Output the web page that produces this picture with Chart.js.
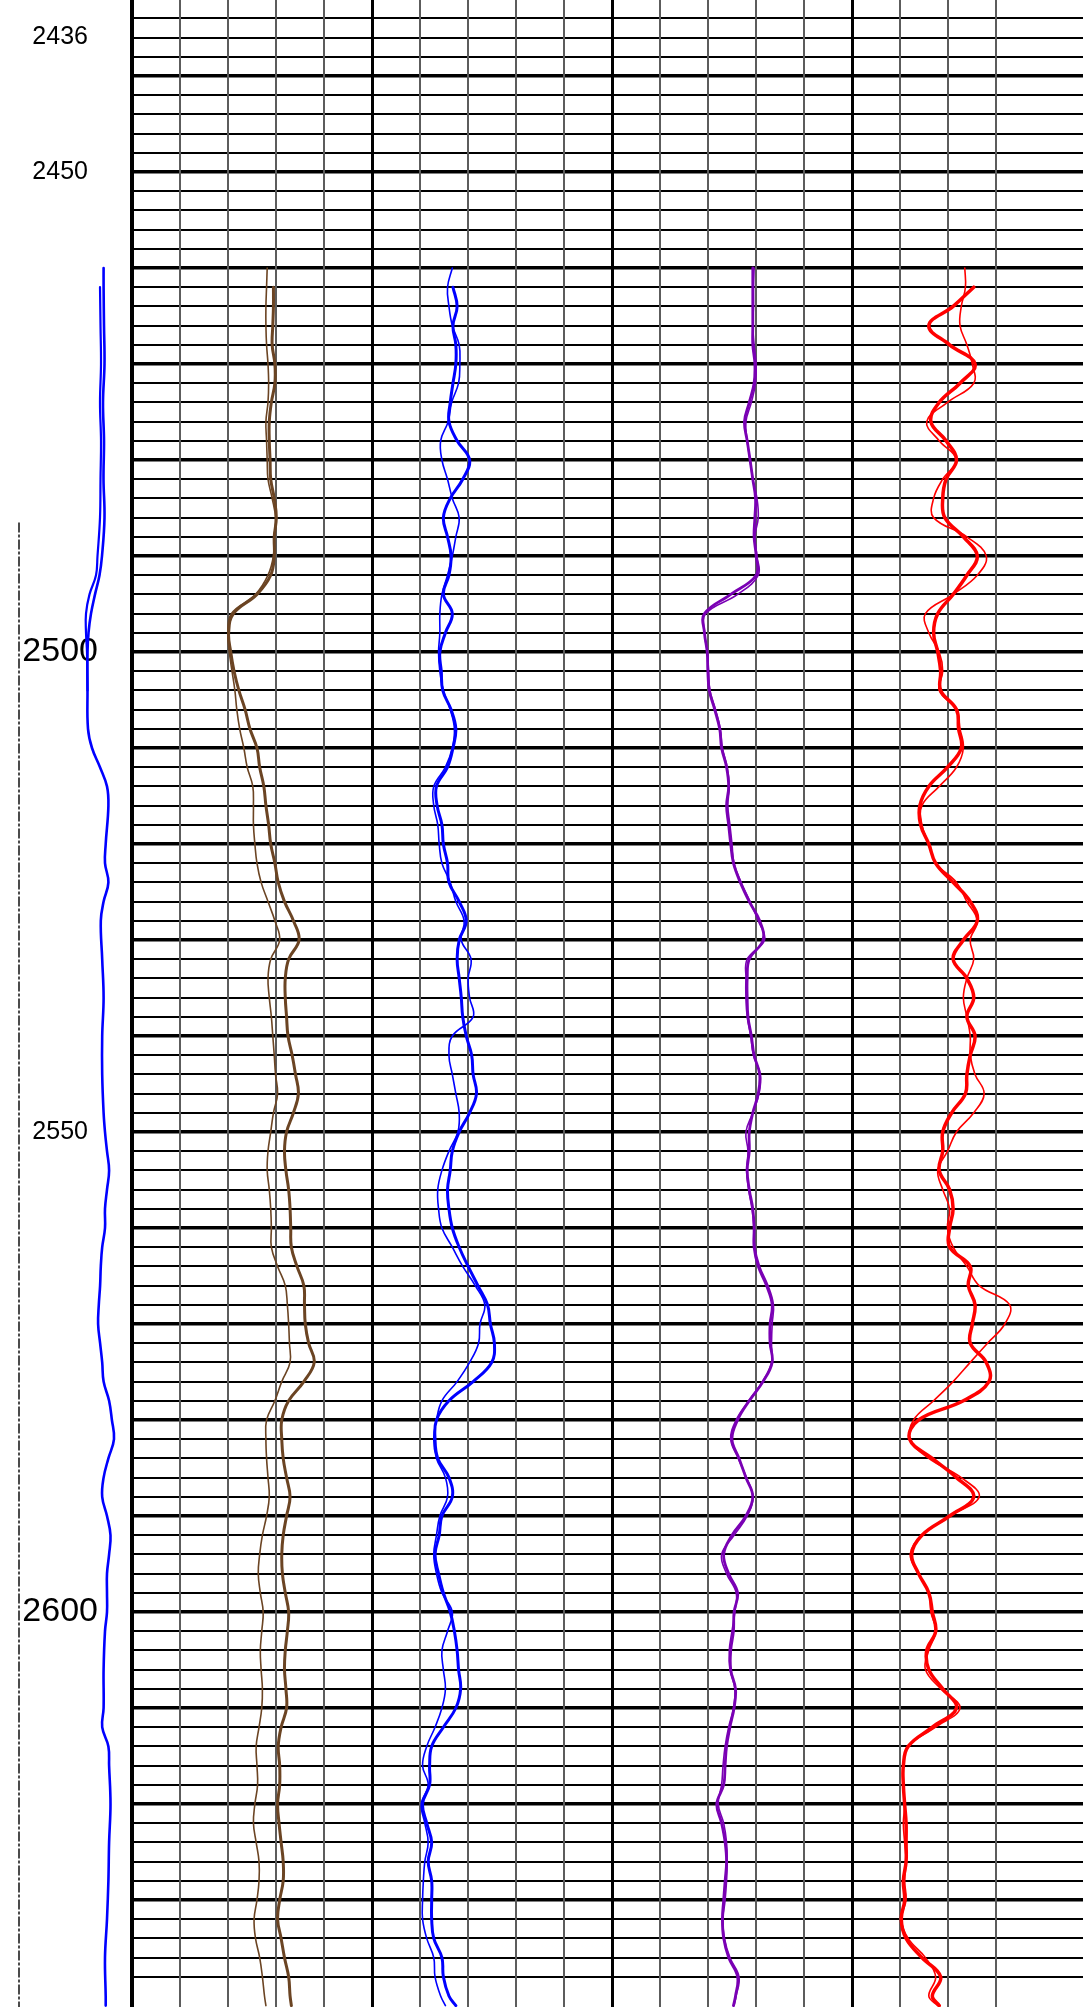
<!DOCTYPE html>
<html>
<head>
<meta charset="utf-8">
<title>Well log correlation</title>
<script src="https://cdn.jsdelivr.net/npm/chart.js@4.4.1/dist/chart.umd.min.js"></script>
<style>
  html, body { margin: 0; padding: 0; background: #fff; }
  canvas { display: block; }
</style>
</head>
<body>
<canvas id="log" width="1083" height="2007"></canvas>
<script>
"use strict";

// depth window shown on the sheet (top / bottom of the canvas)
const depthTop = 2432.083;
const depthBottom = 2641.146;
const depthLabels = [2436, 2450, 2500, 2550, 2600];
const bigLabels = [2500, 2600];

// sample depths shared by the four track curves
const depth = [
    2460, 2462, 2464, 2466, 2468, 2470, 2472, 2474, 2476, 2478, 2480, 2482, 2484, 2486, 2488, 2490, 2492, 2494, 2496, 2498, 2500, 2502, 2504,
    2506, 2508, 2510, 2512, 2514, 2516, 2518, 2520, 2522, 2524, 2526, 2528, 2530, 2532, 2534, 2536, 2538, 2540, 2542, 2544, 2546, 2548, 2550,
    2552, 2554, 2556, 2558, 2560, 2562, 2564, 2566, 2568, 2570, 2572, 2574, 2576, 2578, 2580, 2582, 2584, 2586, 2588, 2590, 2592, 2594, 2596, 2598,
    2600, 2602, 2604, 2606, 2608, 2610, 2612, 2614, 2616, 2618, 2620, 2622, 2624, 2626, 2628, 2630, 2632, 2634, 2636, 2638, 2640, 2641
];

// track 1 (brown), 0-150 across the track
const trk1Thin = [
    84.5, 84.1, 83.7, 83.7, 84.1, 85.0, 85.4, 85.0, 83.7, 84.1, 84.5, 85.0, 87.6, 89.7, 88.9, 88.4, 85.0, 77.2, 62.1, 59.9, 60.8, 62.5, 64.3,
    65.5, 67.3, 69.9, 72.0, 75.5, 75.9, 75.9, 76.8, 78.1, 80.7, 85.0, 89.3, 92.3, 86.7, 85.0, 85.8, 87.1, 88.0, 88.9, 89.7, 91.0, 88.4, 86.7,
    85.0, 84.5, 85.8, 86.7, 87.1, 87.1, 91.0, 95.8, 97.1, 97.9, 98.4, 98.8, 93.6, 89.3, 84.1, 83.7, 84.1, 85.0, 85.8, 84.1, 81.5, 79.8, 78.9, 80.2,
    82.0, 81.1, 80.2, 80.7, 81.5, 81.1, 79.4, 77.6, 78.1, 78.5, 76.8, 75.9, 77.6, 79.4, 79.4, 78.1, 76.3, 77.2, 79.8, 81.5, 82.8, 83.7
];
const trk1Thick = [
    null, 88.4, 88.4, 88.0, 87.6, 89.3, 89.3, 87.1, 85.8, 85.8, 86.3, 86.7, 88.9, 90.2, 88.9, 88.9, 86.7, 78.1, 63.4, 60.4, 61.7, 63.8, 66.8,
    70.7, 73.7, 78.1, 79.8, 82.4, 83.7, 85.4, 86.7, 89.3, 91.4, 95.3, 100.9, 104.4, 97.9, 95.8, 95.8, 96.6, 97.5, 100.1, 102.2, 104.0, 100.9, 96.6,
    95.3, 96.2, 97.9, 98.8, 99.2, 99.6, 103.1, 107.4, 107.8, 108.3, 110.4, 113.9, 107.4, 97.9, 93.6, 93.6, 94.5, 96.6, 98.8, 96.6, 94.5, 93.6, 94.0, 95.8,
    97.9, 97.1, 95.8, 95.3, 96.2, 96.6, 93.2, 91.4, 92.3, 92.3, 91.0, 91.9, 93.2, 94.5, 94.5, 92.3, 91.0, 93.2, 95.3, 97.9, 98.8, 99.6
];

// track 2 (blue)
const trk2Thin = [
    50.2, 47.2, 48.1, 50.2, 54.5, 54.9, 54.1, 49.8, 47.6, 42.9, 43.7, 47.2, 50.2, 54.5, 52.4, 50.2, 47.2, 43.7, 42.4, 42.4, 41.6, 42.4, 44.6,
    48.9, 51.5, 50.2, 45.9, 38.6, 38.6, 41.1, 42.0, 43.7, 48.9, 52.4, 57.6, 55.8, 61.9, 60.1, 61.0, 63.2, 50.2, 48.1, 50.2, 52.4, 54.5, 53.7,
    48.1, 43.7, 41.1, 41.6, 43.7, 50.2, 56.7, 64.5, 70.5, 67.5, 66.6, 61.0, 53.2, 43.7, 40.3, 38.6, 40.3, 45.9, 47.2, 42.4, 40.3, 38.6, 40.3, 43.7,
    50.2, 47.2, 43.7, 44.6, 45.9, 43.7, 39.4, 34.2, 31.6, 35.1, 30.8, 33.0, 35.1, 33.0, 32.1, 31.6, 31.6, 34.2, 38.6, 39.4, 42.9, 45.9
];
const trk2Thick = [
    null, 50.6, 53.2, 50.6, 52.4, 52.4, 50.6, 48.9, 48.1, 53.2, 61.0, 56.7, 48.9, 44.6, 47.2, 49.4, 48.1, 44.6, 50.2, 45.9, 42.4, 43.3, 44.2,
    49.4, 52.4, 50.6, 47.2, 40.3, 40.7, 43.7, 44.6, 47.2, 48.1, 54.5, 58.9, 54.5, 53.2, 54.5, 55.8, 56.7, 58.9, 62.3, 63.2, 65.3, 61.0, 54.5,
    50.2, 48.9, 47.2, 48.1, 50.2, 54.5, 60.1, 66.2, 72.2, 74.0, 76.5, 74.8, 63.2, 48.1, 40.3, 39.4, 41.1, 48.1, 50.2, 43.7, 42.0, 39.4, 41.6, 44.6,
    48.9, 51.5, 53.2, 54.1, 55.4, 52.4, 44.6, 37.3, 36.0, 36.0, 31.6, 34.2, 37.3, 35.1, 37.3, 37.3, 37.3, 38.6, 43.7, 44.6, 48.1, 52.4
];

// track 3 (purple)
const trk3Thin = [
    88.8, 88.4, 88.4, 88.0, 88.8, 90.1, 89.7, 87.1, 83.7, 84.5, 86.3, 88.0, 90.6, 91.4, 89.3, 90.6, 91.4, 78.5, 58.6, 57.8, 59.5, 60.4, 61.2,
    64.7, 67.7, 69.0, 72.0, 73.3, 72.4, 73.7, 75.0, 76.3, 80.7, 86.3, 91.4, 95.3, 84.5, 83.7, 83.7, 84.5, 86.7, 88.4, 92.7, 91.9, 88.0, 83.7,
    85.0, 84.1, 85.4, 87.5, 88.8, 89.3, 92.3, 97.5, 100.9, 100.1, 99.7, 99.7, 94.0, 85.4, 77.6, 74.2, 78.9, 84.1, 88.0, 84.5, 76.3, 68.5, 71.6, 77.6,
    76.8, 75.0, 73.3, 73.7, 76.8, 75.9, 72.9, 70.7, 69.4, 68.5, 66.4, 69.8, 71.6, 72.0, 71.6, 70.7, 69.4, 70.3, 73.7, 79.4, 77.6, 76.3
];
const trk3Thick = [
    88.0, 88.0, 88.0, 88.0, 88.0, 89.3, 88.8, 85.8, 82.8, 84.5, 86.3, 88.0, 89.7, 89.3, 88.8, 90.1, 90.1, 74.2, 57.8, 57.8, 59.5, 59.9, 60.8,
    64.2, 67.3, 68.5, 71.6, 72.9, 71.6, 72.9, 74.2, 75.9, 80.2, 85.8, 92.3, 94.4, 85.8, 84.5, 84.5, 85.0, 87.1, 88.8, 92.3, 91.4, 88.0, 85.8,
    85.8, 84.5, 85.8, 88.0, 88.8, 88.8, 91.4, 96.6, 100.1, 98.8, 98.8, 100.1, 94.4, 85.8, 78.5, 75.0, 79.4, 83.7, 88.0, 83.7, 75.0, 69.8, 72.9, 78.5,
    76.3, 75.9, 74.2, 74.2, 77.2, 76.3, 73.7, 71.6, 70.7, 69.8, 65.5, 68.5, 70.7, 71.6, 70.7, 69.8, 69.0, 69.8, 72.9, 78.5, 77.2, 75.9
];

// track 4 (red)
const trk4Thin = [
    70.5, 70.9, 68.3, 67.5, 71.8, 75.2, 76.1, 59.7, 46.7, 54.5, 65.3, 56.7, 51.0, 51.0, 71.8, 83.9, 78.3, 63.2, 45.9, 48.0, 54.5, 56.7, 54.5,
    65.3, 67.5, 69.6, 65.3, 54.5, 43.7, 43.7, 48.0, 52.3, 65.3, 71.8, 78.3, 73.9, 76.1, 71.8, 69.6, 71.8, 73.9, 73.9, 76.9, 82.6, 76.1, 65.3,
    59.7, 53.6, 56.7, 61.0, 59.7, 63.2, 71.8, 79.5, 98.5, 95.5, 84.7, 73.9, 63.2, 51.0, 38.5, 36.4, 48.0, 68.3, 79.5, 61.0, 43.7, 36.4, 41.6, 48.0,
    49.3, 52.3, 48.0, 45.9, 55.4, 67.5, 52.3, 35.1, 32.1, 32.1, 32.9, 32.1, 32.9, 33.8, 32.9, 33.8, 30.8, 35.1, 45.9, 52.3, 48.0, 53.6
];
const trk4Thick = [
    null, 76.1, 63.2, 48.0, 61.0, 76.9, 67.5, 54.5, 49.3, 58.8, 65.3, 58.8, 56.7, 58.0, 69.6, 78.3, 71.8, 63.2, 53.6, 51.0, 53.6, 55.4, 55.4,
    65.3, 66.6, 68.3, 59.7, 48.0, 42.4, 42.9, 48.0, 52.3, 63.2, 73.9, 78.3, 69.6, 63.2, 71.8, 76.1, 71.8, 76.9, 73.9, 71.8, 70.9, 62.3, 56.7,
    56.7, 54.5, 61.0, 63.2, 61.0, 61.0, 73.9, 72.7, 76.9, 75.2, 73.9, 83.9, 85.6, 69.6, 41.6, 36.0, 50.2, 65.3, 76.1, 61.0, 43.7, 37.3, 41.6, 48.0,
    50.2, 52.3, 46.7, 48.0, 56.7, 65.3, 50.2, 35.1, 32.1, 32.1, 32.9, 33.8, 33.8, 33.8, 32.1, 32.9, 30.8, 33.8, 43.7, 55.4, 50.2, 54.5
];

// caliper in the depth column (inches)
const calDepth = [
    2460, 2462, 2466, 2470, 2474, 2478, 2482, 2486, 2490, 2492, 2494, 2496, 2498, 2500, 2504, 2508, 2510, 2512, 2514, 2516,
    2520, 2522, 2524, 2526, 2528, 2532, 2536, 2540, 2544, 2548, 2550, 2552, 2554, 2556, 2558, 2560, 2562, 2564, 2566, 2568,
    2570, 2572, 2574, 2576, 2578, 2580, 2582, 2584, 2586, 2588, 2590, 2592, 2594, 2596, 2598, 2600, 2602, 2606, 2610, 2612,
    2614, 2616, 2620, 2624, 2628, 2632, 2636, 2640, 2641
];
const calA = [
    10.36, 10.36, 10.4, 10.45, 10.3, 10.4, 10.35, 10.45, 10.2, 9.95, 9.5, 9.1, 8.85, 8.75, 8.75, 8.8, 9.2, 10.0, 10.7, 10.84,
    10.57, 10.5, 10.84, 10.36, 10.08, 10.22, 10.36, 10.22, 10.22, 10.36, 10.5, 10.7, 10.91, 10.7, 10.5, 10.5, 10.22, 10.08, 10.01, 9.88,
    9.81, 10.01, 10.22, 10.36, 10.91, 11.19, 11.4, 10.84, 10.36, 10.22, 10.7, 11.05, 10.91, 10.7, 10.7, 10.7, 10.5, 10.36, 10.36, 10.22,
    10.84, 10.91, 11.05, 10.91, 10.84, 10.7, 10.5, 10.57, 10.57
];
const calBDepth = [2462, 2466, 2470, 2474, 2478, 2482, 2486, 2490, 2492, 2494, 2496, 2498, 2500, 2504];
const calB = [10.0, 10.05, 10.1, 10.0, 10.1, 10.05, 10.0, 9.75, 9.6, 8.95, 8.6, 8.6, 8.7, 8.75];

// dashed reference line in the depth column
const refDepth = [2486.5, 2641.2];
const refValue = [1.9, 1.9];

Chart.defaults.font.family = "'Liberation Sans', Arial, sans-serif";

const chartDivs = 19.8125;   // plot width in grid divisions (951 px / 48 px)
const trackUnits = 150;      // value range of one track (5 divisions)

function trackAxis(k) {
    const min = -k * trackUnits;
    return { type: 'linear', display: false, min: min, max: min + chartDivs * trackUnits / 5 };
}

function series(label, ys, xs, axis, color, width) {
    const pts = [];
    for (let i = 0; i < ys.length; i++) {
        if (xs[i] !== null) pts.push({ x: xs[i], y: ys[i] });
    }
    return {
        label: label,
        data: pts,
        xAxisID: axis,
        yAxisID: 'y',
        borderColor: color,
        backgroundColor: color,
        borderWidth: width,
        pointRadius: 0,
        showLine: true,
        tension: 0.4,
        capBezierPoints: false,
        borderJoinStyle: 'round',
        borderCapStyle: 'round',
        fill: false
    };
}

const brown = '#6b4423';
const blue = '#0000ff';
const purple = '#7a00b4';
const red = '#ff0000';

const datasets = [
    series('Track 1 A', depth, trk1Thin, 'x1', brown, 1.6),
    series('Track 1 B', depth, trk1Thick, 'x1', brown, 3),
    series('Track 2 A', depth, trk2Thin, 'x2', blue, 1.6),
    series('Track 2 B', depth, trk2Thick, 'x2', blue, 3),
    series('Track 3 A', depth, trk3Thin, 'x3', purple, 1.6),
    series('Track 3 B', depth, trk3Thick, 'x3', purple, 2.8),
    series('Track 4 A', depth, trk4Thin, 'x4', red, 1.6),
    series('Track 4 B', depth, trk4Thick, 'x4', red, 3.5)
];

const cal1 = series('Caliper A', calDepth, calA, 'xc', blue, 2.6);
const cal2 = series('Caliper B', calBDepth, calB, 'xc', blue, 2.2);
const ref = series('Reference', refDepth, refValue, 'xc', '#111', 1.5);
ref.borderDash = [10, 2, 3, 2];
ref.tension = 0;
ref.borderCapStyle = 'butt';
[cal1, cal2, ref].forEach(ds => { ds.clip = false; datasets.push(ds); });

function roundTicks(scale, step) {
    scale.ticks = scale.ticks
        .filter(t => Math.abs(t.value - Math.round(t.value)) < 1e-6 && Math.round(t.value) % step === 0)
        .map(t => ({ value: Math.round(t.value) }));
}

const ctx = document.getElementById('log').getContext('2d');
const logChart = new Chart(ctx, {
    type: 'scatter',
    data: { datasets: datasets },
    options: {
        responsive: false,
        maintainAspectRatio: false,
        devicePixelRatio: 1,
        animation: false,
        layout: { padding: 0 },
        plugins: {
            legend: { display: false },
            tooltip: { enabled: false }
        },
        scales: {
            yl: {
                type: 'linear',
                position: 'left',
                reverse: true,
                min: depthTop,
                max: depthBottom,
                grid: { display: false },
                border: { display: true, color: '#000', width: 4 },
                ticks: {
                    color: '#000',
                    padding: 26,
                    crossAlign: 'center',
                    font: c => ({ size: c.tick && bigLabels.includes(c.tick.value) ? 34 : 25 }),
                    callback: v => String(v)
                },
                afterBuildTicks: s => { s.ticks = depthLabels.map(v => ({ value: v })); },
                afterFit: s => { s.width = 132; s.paddingTop = 0; s.paddingBottom = 0; }
            },
            y: {
                type: 'linear',
                position: 'left',
                reverse: true,
                min: depthTop,
                max: depthBottom,
                border: { display: false },
                ticks: { display: false, stepSize: 2 },
                grid: {
                    drawTicks: false,
                    color: '#000',
                    lineWidth: c => (c.tick && c.tick.value % 10 === 0 ? 3.4 : 1.9)
                },
                afterBuildTicks: s => roundTicks(s, 2),
                afterFit: s => { s.width = 0; }
            },
            xg: {
                type: 'linear',
                position: 'bottom',
                min: 0,
                max: chartDivs,
                border: { display: false },
                ticks: { display: false, stepSize: 1 },
                grid: {
                    drawTicks: false,
                    color: c => (c.tick && c.tick.value % 5 === 0 ? '#000' : '#5c5c5c'),
                    lineWidth: c => (c.tick && c.tick.value % 5 === 0 ? 3 : 2)
                },
                afterBuildTicks: s => roundTicks(s, 1),
                afterFit: s => { s.height = 0; }
            },
            x1: trackAxis(0),
            x2: trackAxis(1),
            x3: trackAxis(2),
            x4: trackAxis(3),
            // caliper drawn at 10 px per inch from the left edge of the sheet
            xc: { type: 'linear', display: false, min: 13.2, max: 108.3 }
        }
    }
});
</script>
</body>
</html>
